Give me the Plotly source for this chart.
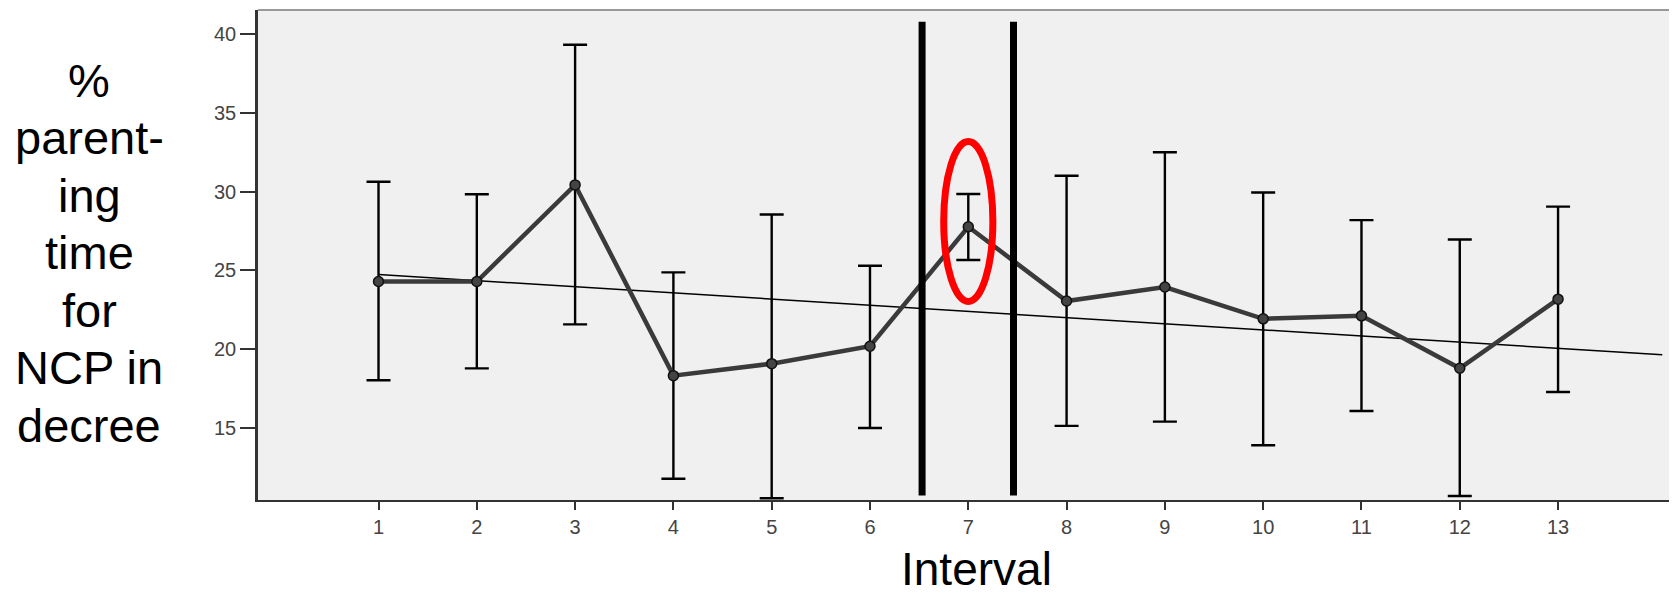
import plotly.graph_objects as go

# ---- data ----
intervals = [1, 2, 3, 4, 5, 6, 7, 8, 9, 10, 11, 12, 13]
means = [24.29, 24.29, 30.43, 18.31, 19.07, 20.18, 27.77, 23.05, 23.94, 21.92, 22.11, 18.78, 23.17]
upper = [30.63, 29.83, 39.33, 24.87, 28.55, 25.29, 29.85, 31.01, 32.50, 29.95, 28.19, 26.96, 29.05]
lower = [18.02, 18.77, 21.57, 11.76, 10.52, 14.98, 25.66, 15.12, 15.39, 13.89, 16.06, 10.66, 17.27]
trend_x = [1, 14.06]
trend_y = [24.74, 19.63]
y_ticks = [15, 20, 25, 30, 35, 40]
x_ticks = intervals
y_title_lines = ["%", "parent-", "ing", "time", "for", "NCP in", "decree"]
x_title = "Interval"
divider_x = [6.53, 7.46]          # the two thick vertical markers
divider_y = [10.69, 40.8]
highlight_x = [6.75, 7.25]        # red ellipse around interval 7
highlight_y = [23.02, 33.18]

err_plus = [u - m for u, m in zip(upper, means)]
err_minus = [m - l for m, l in zip(means, lower)]

# ---- layout geometry (page offset of 8px from the browser's body margin) ----
PAGE_OFF = 8
W, H = 1677 - PAGE_OFF, 595 - PAGE_OFF
ML, MT, MB = 258 - PAGE_OFF, 10 - PAGE_OFF, 95
PLOT_H = H - MT - MB
PLOT_W = W - ML


def px_to_paper_y(page_y):
    return (500 - page_y) / PLOT_H


def px_to_paper_x(page_x):
    return (page_x - 258) / PLOT_W


fig = go.Figure()

fig.add_trace(go.Scatter(
    x=trend_x, y=trend_y, mode="lines",
    line=dict(color="black", width=1.5),
    showlegend=False, hoverinfo="skip",
))

fig.add_trace(go.Scatter(
    x=intervals, y=means, mode="lines+markers",
    line=dict(color="#3a3a3a", width=4.5),
    marker=dict(size=10, color="#444444", line=dict(color="#111111", width=1.5)),
    error_y=dict(type="data", symmetric=False, array=err_plus, arrayminus=err_minus,
                 color="black", thickness=2.4, width=12),
    showlegend=False,
))

shapes = []
for xv in divider_x:
    shapes.append(dict(type="line", xref="x", yref="y", x0=xv, x1=xv,
                       y0=divider_y[0], y1=divider_y[1],
                       line=dict(color="black", width=7)))
shapes.append(dict(type="circle", xref="x", yref="y",
                   x0=highlight_x[0], x1=highlight_x[1],
                   y0=highlight_y[0], y1=highlight_y[1],
                   line=dict(color="#ff0000", width=7)))
shapes.append(dict(type="line", xref="paper", yref="paper", x0=0, x1=1, y0=1, y1=1,
                   line=dict(color="#999999", width=2)))

FONT = "Liberation Sans, Arial, sans-serif"
TITLE_SIZE = 47
first_baseline, line_step = 96.7, 57.5
annotations = []
for i, txt in enumerate(y_title_lines):
    baseline = first_baseline + i * line_step
    annotations.append(dict(
        text=txt, xref="paper", yref="paper",
        x=px_to_paper_x(89), y=px_to_paper_y(baseline - 0.35 * TITLE_SIZE),
        xanchor="center", yanchor="middle", showarrow=False,
        font=dict(size=TITLE_SIZE, color="black", family=FONT)))
annotations.append(dict(
    text=x_title, xref="paper", yref="paper",
    x=px_to_paper_x(976), y=px_to_paper_y(585 - 0.35 * 46),
    xanchor="center", yanchor="middle", showarrow=False,
    font=dict(size=46, color="black", family=FONT)))

fig.update_layout(
    width=W, height=H,
    margin=dict(l=ML, r=0, t=MT, b=MB),
    paper_bgcolor="white",
    plot_bgcolor="#F0F0F0",
    shapes=shapes,
    font=dict(family=FONT),
    annotations=annotations,
)

fig.update_xaxes(
    range=[-0.226, 14.21], tickmode="array", tickvals=x_ticks,
    ticktext=[str(v) for v in x_ticks],
    showgrid=False, zeroline=False,
    showline=True, linecolor="#333333", linewidth=2,
    ticks="outside", ticklen=8, tickwidth=1.5, tickcolor="#333333",
    tickfont=dict(size=20, color="#444444"),
)
fig.update_yaxes(
    range=[10.41, 41.54], tickmode="array", tickvals=y_ticks,
    ticktext=[str(v) for v in y_ticks],
    showgrid=False, zeroline=False,
    showline=True, linecolor="#333333", linewidth=2.5,
    ticks="outside", ticklen=15, tickwidth=1.5, tickcolor="#333333",
    tickfont=dict(size=20, color="#444444"),
)

fig.write_html("out.html")
